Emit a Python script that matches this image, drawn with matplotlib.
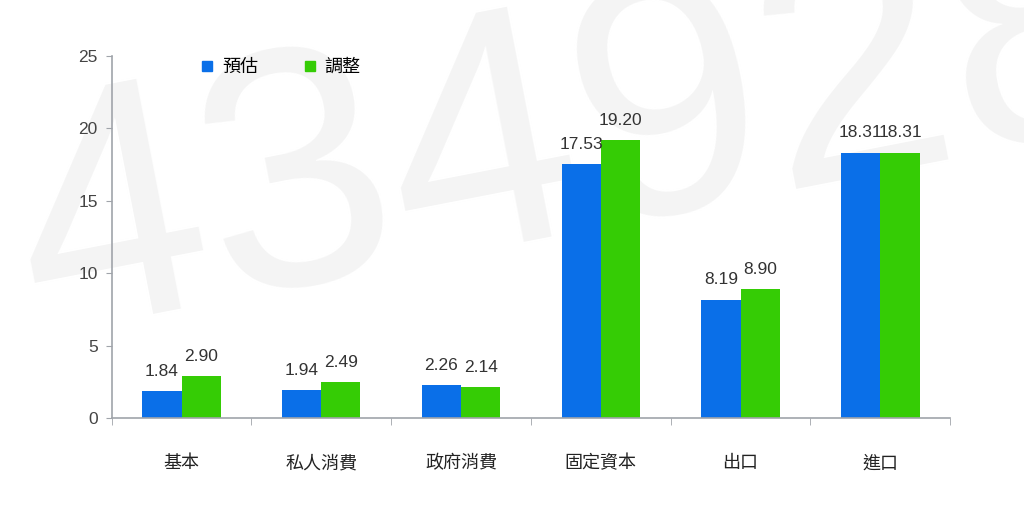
import matplotlib.pyplot as plt
import numpy as np
from matplotlib.lines import Line2D

plt.rcParams['font.family'] = ['Noto Sans CJK TC', 'DejaVu Sans']

# data
categories = ['基本', '私人消費', '政府消費', '固定資本', '出口', '進口']
estimate = [1.84, 1.94, 2.26, 17.53, 8.19, 18.31]
adjusted = [2.90, 2.49, 2.14, 19.20, 8.90, 18.31]
series_names = ['預估', '調整']

blue = '#0a6fe8'
green = '#35cc05'
axis_grey = '#a0a4aa'

fig = plt.figure(figsize=(10.24, 5.05), dpi=100)

ax = fig.add_axes([0.109, 0.172, 0.819, 0.717])
ax.patch.set_alpha(0)

# faint watermark behind everything
ax.text(-0.01, 0.34, '434928', transform=fig.transFigure, fontsize=245,
        color='#f4f4f4', rotation=11, family='Liberation Sans',
        ha='left', va='baseline', zorder=0, clip_on=False)

x = np.arange(len(categories))
w = 0.28
b1 = ax.bar(x - w / 2, estimate, w, color=blue, zorder=2)
b2 = ax.bar(x + w / 2, adjusted, w, color=green, zorder=2)

for bars, vals in [(b1, estimate), (b2, adjusted)]:
    for r, v in zip(bars, vals):
        ax.annotate(f'{v:.2f}', (r.get_x() + r.get_width() / 2, v),
                    xytext=(0, 9), textcoords='offset points',
                    ha='center', va='bottom', fontsize=12.5, color='#333333',
                    family='Liberation Sans', zorder=3)

ax.set_xlim(-0.5, len(categories) - 0.5)
ax.set_ylim(0, 25)
ax.set_yticks([0, 5, 10, 15, 20, 25])
ax.tick_params(axis='y', length=4, color=axis_grey, labelsize=12.5,
               labelcolor='#444444', pad=6)
for lab in ax.get_yticklabels():
    lab.set_family('Liberation Sans')

ax.set_xticks(x)
ax.set_xticklabels(categories, fontsize=13, color='#222222')
ax.tick_params(axis='x', length=0, pad=26)
ax.set_xticks(np.arange(-0.5, len(categories)), minor=True)
ax.tick_params(axis='x', which='minor', length=5, color=axis_grey)

for side in ['top', 'right']:
    ax.spines[side].set_visible(False)
for side in ['left', 'bottom']:
    ax.spines[side].set_color(axis_grey)
    ax.spines[side].set_linewidth(1.2)

handles = [Line2D([], [], marker='s', linestyle='', color=blue, markersize=7),
           Line2D([], [], marker='s', linestyle='', color=green, markersize=7)]
ax.legend(handles, series_names, ncol=2, frameon=False, fontsize=13,
          loc='upper left', bbox_to_anchor=(0.084, 1.04),
          handletextpad=0.3, columnspacing=2.4, handlelength=1.0)

fig.savefig('out.png', dpi=100)
